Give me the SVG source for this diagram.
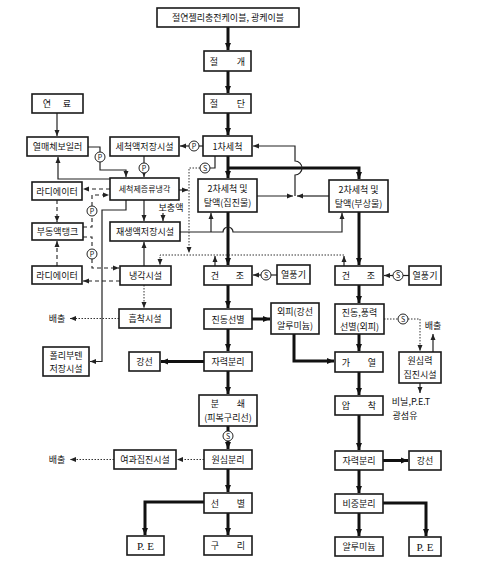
<svg xmlns="http://www.w3.org/2000/svg" width="477" height="572" viewBox="0 0 477 572">
<defs>
<style>
.b{fill:#fff;stroke:#1a1a1a;stroke-width:1.6}
text{font-family:"Noto Sans CJK KR","Noto Sans",sans-serif;font-size:9px;fill:#111;text-anchor:middle}
.sm{font-size:8px}
.k{stroke:#111;stroke-width:3;fill:none}
.n{stroke:#222;stroke-width:1.2;fill:none}
.d{stroke:#222;stroke-width:1.1;fill:none;stroke-dasharray:4 3}
.o{stroke:#333;stroke-width:1;fill:none;stroke-dasharray:1.5 1.5}
.c{fill:#fff;stroke:#222;stroke-width:1}
.cl{font-size:7px}
</style>
<marker id="a" markerUnits="userSpaceOnUse" markerWidth="8" markerHeight="7" refX="7" refY="3.5" orient="auto"><path d="M0,0.5 L7,3.5 L0,6.5 z" fill="#111"/></marker>
<marker id="s" markerUnits="userSpaceOnUse" markerWidth="7" markerHeight="6" refX="6" refY="3" orient="auto"><path d="M0,0.5 L6,3 L0,5.5 z" fill="#222"/></marker>
</defs>
<rect width="477" height="572" fill="#fff"/>

<g id="connectors">
<path class="k" d="M228,27 V50" marker-end="url(#a)"/>
<path class="k" d="M228,71 V93" marker-end="url(#a)"/>
<path class="k" d="M228,113 V135" marker-end="url(#a)"/>
<path class="k" d="M228,156 V178" marker-end="url(#a)"/>
<path class="k" d="M228,168 H359 V179" marker-end="url(#a)"/>
<path class="k" d="M228,212 V265" marker-end="url(#a)"/>
<path class="k" d="M359,212 V265" marker-end="url(#a)"/>
<path class="k" d="M228,285 V308" marker-end="url(#a)"/>
<path class="k" d="M252,319 H270" marker-end="url(#a)"/>
<path class="k" d="M294,334 V361 H334" marker-end="url(#a)"/>
<path class="k" d="M359,285 V303" marker-end="url(#a)"/>
<path class="k" d="M359,334 V351" marker-end="url(#a)"/>
<path class="k" d="M359,372 V395" marker-end="url(#a)"/>
<path class="k" d="M359,415 V450" marker-end="url(#a)"/>
<path class="k" d="M383,460.5 H408" marker-end="url(#a)"/>
<path class="k" d="M359,470 V493" marker-end="url(#a)"/>
<path class="k" d="M359,513 V536" marker-end="url(#a)"/>
<path class="k" d="M383,503 H426 V536" marker-end="url(#a)"/>
<path class="k" d="M228,329 V351" marker-end="url(#a)"/>
<path class="k" d="M204,361.5 H161" marker-end="url(#a)"/>
<path class="k" d="M228,371 V394" marker-end="url(#a)"/>
<path class="k" d="M228,426 V431"/>
<path class="k" d="M228,441 V449" marker-end="url(#a)"/>
<path class="k" d="M228,469 V492" marker-end="url(#a)"/>
<path class="k" d="M228,513 V535" marker-end="url(#a)"/>
<path class="k" d="M204,502 H145 V535" marker-end="url(#a)"/>

<path class="n" d="M57,113 V136" marker-end="url(#s)"/>
<path class="n" d="M203,146 H199"/>
<path class="n" d="M189,146 H180" marker-end="url(#s)"/>
<path class="n" d="M144,156 V163"/>
<path class="n" d="M144,173 V177" marker-end="url(#s)"/>
<path class="n" d="M88,147 H100 V152"/>
<path class="n" d="M100,162 V170 H126 V177" marker-end="url(#s)"/>
<path class="n" d="M110,179 H58 V157" marker-end="url(#s)"/>
<path class="n" d="M179,190 H188" marker-end="url(#s)"/>
<path class="n" d="M126,200 V210 H102 V361.5 H90" marker-end="url(#s)"/>
<path class="n" d="M144,200 V221" marker-end="url(#s)"/>
<path class="n" d="M163,213 V221" marker-end="url(#s)"/>
<path class="n" d="M144,266 V242" marker-end="url(#s)"/>
<path class="n" d="M180,232 H223 A5,5 0 0 1 233,232 H342 V213" marker-end="url(#s)"/>
<path class="n" d="M211,232 V213" marker-end="url(#s)"/>
<path class="n" d="M257,196 H293" marker-end="url(#s)"/>
<path class="n" d="M329,196 H297" marker-end="url(#s)"/>
<path class="n" d="M295,196 V175 A7,7 0 0 0 295,161 V146 H253" marker-end="url(#s)"/>
<path class="n" d="M215,156 V168 H210"/>
<path class="n" d="M277,275 H271"/>
<path class="n" d="M261,275 H253" marker-end="url(#s)"/>
<path class="n" d="M409,275.5 H403"/>
<path class="n" d="M393,275.5 H384" marker-end="url(#s)"/>
<path class="n" d="M433,352 V334" marker-end="url(#s)"/>
<path class="n" d="M420,383 V393" marker-end="url(#s)"/>

<path class="o" d="M200,168 H189 V253" marker-end="url(#s)"/>
<path class="o" d="M344,255 H160 V265" marker-end="url(#s)"/>
<path class="n" d="M344,266 V256" marker-end="url(#s)"/>
<path class="n" d="M215,266 V256" marker-end="url(#s)"/>
<path class="o" d="M144,285 V308" marker-end="url(#s)"/>
<path class="o" d="M119,318.5 H70" marker-end="url(#s)"/>
<path class="o" d="M384,319 H398"/>
<path class="o" d="M408,319 H420 V351" marker-end="url(#s)"/>
<path class="o" d="M204,459.5 H177" marker-end="url(#s)"/>
<path class="o" d="M114,459.5 H70" marker-end="url(#s)"/>

<path class="d" d="M110,189 H83" marker-end="url(#s)"/>
<path class="d" d="M57,200 V222" marker-end="url(#s)"/>
<path class="d" d="M57,266 V241" marker-end="url(#s)"/>
<path class="d" d="M83,227 H92 V216"/>
<path class="d" d="M92,206 V195 H109" marker-end="url(#s)"/>
<path class="d" d="M83,237 H92 V249"/>
<path class="d" d="M92,259 V268 H119" marker-end="url(#s)"/>
<path class="d" d="M120,281 H83" marker-end="url(#s)"/>

<circle class="c" cx="194" cy="146" r="5"/><text class="cl" x="194" y="148.5">P</text>
<circle class="c" cx="144" cy="168" r="5"/><text class="cl" x="144" y="170.5">P</text>
<circle class="c" cx="100" cy="157" r="5"/><text class="cl" x="100" y="159.5">P</text>
<circle class="c" cx="92" cy="211" r="5"/><text class="cl" x="92" y="213.5">P</text>
<circle class="c" cx="92" cy="254" r="5"/><text class="cl" x="92" y="256.5">P</text>
<circle class="c" cx="205" cy="168" r="5"/><text class="cl" x="205" y="170.5">S</text>
<circle class="c" cx="266" cy="275" r="5"/><text class="cl" x="266" y="277.5">S</text>
<circle class="c" cx="398" cy="275.5" r="5"/><text class="cl" x="398" y="278">S</text>
<circle class="c" cx="403" cy="319" r="5"/><text class="cl" x="403" y="321.5">S</text>
<circle class="c" cx="228" cy="436" r="5"/><text class="cl" x="228" y="438.5">S</text>
</g>

<g id="n_cable"><rect class="b" x="157" y="8" width="142" height="19"/><text x="228" y="21">절연젤리충전케이블, 광케이블</text></g>
<g id="n_cut1"><rect class="b" x="204" y="51" width="47" height="20"/><text x="228" y="64.5"><tspan x="214">절</tspan><tspan x="241">개</tspan></text></g>
<g id="n_cut2"><rect class="b" x="204" y="94" width="47" height="19"/><text x="228" y="107"><tspan x="214">절</tspan><tspan x="241">단</tspan></text></g>
<g id="n_wash1"><rect class="b" x="203" y="136" width="49" height="20"/><text x="227.5" y="149.5">1차세척</text></g>
<g id="n_fuel"><rect class="b" x="32" y="94" width="51" height="19"/><text x="57" y="107"><tspan x="47">연</tspan><tspan x="67">료</tspan></text></g>
<g id="n_boiler"><rect class="b" x="27" y="137" width="61" height="19"/><text x="57.5" y="150">열매체보일러</text></g>
<g id="n_wstore"><rect class="b" x="110" y="137" width="69" height="19"/><text x="144.5" y="150">세척액저장시설</text></g>
<g id="n_distill"><rect class="b" x="110" y="178" width="69" height="22"/><text class="sm" x="144.5" y="192">세척제증류냉각</text></g>
<g id="n_wash2a"><rect class="b" x="198" y="179" width="59" height="33"/><text x="227.5" y="192">2차세척 및</text><text x="227.5" y="206">탈액(집진물)</text></g>
<g id="n_wash2b"><rect class="b" x="329" y="180" width="59" height="32"/><text x="358.5" y="192.5">2차세척 및</text><text x="358.5" y="206.5">탈액(부상물)</text></g>
<g id="n_rad1"><rect class="b" x="32" y="182" width="50" height="18"/><text x="57" y="194.5">라디에이터</text></g>
<g id="n_tank"><rect class="b" x="32" y="223" width="51" height="17"/><text x="57.5" y="235">부동액탱크</text></g>
<g id="n_rad2"><rect class="b" x="32" y="266" width="50" height="18"/><text x="57" y="278.5">라디에이터</text></g>
<g id="n_regen"><rect class="b" x="110" y="222" width="70" height="19"/><text x="145" y="235">재생액저장시설</text></g>
<g id="n_cool"><rect class="b" x="120" y="266" width="51" height="19"/><text x="145.5" y="279">냉각시설</text></g>
<g id="n_adsorb"><rect class="b" x="119" y="309" width="52" height="19"/><text x="145" y="322">흡착시설</text></g>
<g id="n_poly"><rect class="b" x="43" y="347" width="46" height="29"/><text x="66" y="359">폴리부텐</text><text x="66" y="372">저장시설</text></g>
<g id="n_dry1"><rect class="b" x="204" y="266" width="48" height="19"/><text x="228" y="279"><tspan x="215">건</tspan><tspan x="240">조</tspan></text></g>
<g id="n_fan1"><rect class="b" x="277" y="265" width="33" height="19"/><text x="293.5" y="278">열풍기</text></g>
<g id="n_dry2"><rect class="b" x="335" y="266" width="48" height="19"/><text x="359" y="279"><tspan x="346">건</tspan><tspan x="371">조</tspan></text></g>
<g id="n_fan2"><rect class="b" x="409" y="266" width="32" height="19"/><text x="425" y="279">열풍기</text></g>
<g id="n_vib"><rect class="b" x="204" y="309" width="48" height="20"/><text x="228" y="322.5">진동선별</text></g>
<g id="n_shell"><rect class="b" x="271" y="303" width="48" height="31"/><text x="295" y="315">외피(강선</text><text x="295" y="329">알루미늄)</text></g>
<g id="n_vib2"><rect class="b" x="335" y="304" width="49" height="30"/><text x="359.5" y="316">진동,풍력</text><text x="359.5" y="330">선별(외피)</text></g>
<g id="n_cyclone"><rect class="b" x="399" y="352" width="42" height="31"/><text x="420" y="364">원심력</text><text x="420" y="378">집진시설</text></g>
<g id="n_mag1"><rect class="b" x="204" y="352" width="48" height="19"/><text x="228" y="365">자력분리</text></g>
<g id="n_steel1"><rect class="b" x="129" y="352" width="31" height="19"/><text x="144.5" y="365">강선</text></g>
<g id="n_crush"><rect class="b" x="199" y="395" width="58" height="31"/><text x="228" y="407"><tspan x="215">분</tspan><tspan x="241">쇄</tspan></text><text x="228" y="421">(피복구리선)</text></g>
<g id="n_heat"><rect class="b" x="335" y="352" width="48" height="20"/><text x="359" y="365.5"><tspan x="346">가</tspan><tspan x="372">열</tspan></text></g>
<g id="n_press"><rect class="b" x="335" y="396" width="48" height="19"/><text x="359" y="409"><tspan x="346">압</tspan><tspan x="372">착</tspan></text></g>
<g id="n_cent"><rect class="b" x="204" y="450" width="48" height="19"/><text x="228" y="463">원심분리</text></g>
<g id="n_filter"><rect class="b" x="114" y="450" width="62" height="19"/><text x="145" y="463">여과집진시설</text></g>
<g id="n_sort"><rect class="b" x="204" y="493" width="48" height="20"/><text x="228" y="506.5"><tspan x="215">선</tspan><tspan x="241">별</tspan></text></g>
<g id="n_pe1"><rect class="b" x="127" y="536" width="37" height="19"/><text x="145.5" y="549.5" style="font-family:'Liberation Serif',serif;font-size:11px">P. E</text></g>
<g id="n_cu"><rect class="b" x="204" y="536" width="48" height="19"/><text x="228" y="549"><tspan x="215">구</tspan><tspan x="241">리</tspan></text></g>
<g id="n_mag2"><rect class="b" x="335" y="451" width="48" height="19"/><text x="359" y="464">자력분리</text></g>
<g id="n_steel2"><rect class="b" x="409" y="451" width="32" height="19"/><text x="425" y="464">강선</text></g>
<g id="n_dens"><rect class="b" x="335" y="494" width="48" height="19"/><text x="359" y="507">비중분리</text></g>
<g id="n_al"><rect class="b" x="335" y="537" width="48" height="19"/><text x="359" y="550">알루미늄</text></g>
<g id="n_pe2"><rect class="b" x="409" y="537" width="32" height="19"/><text x="425" y="550.5" style="font-family:'Liberation Serif',serif;font-size:11px">P. E</text></g>

<g id="labels">
<text x="171" y="211">보충액</text>
<text x="57" y="321.5">배출</text>
<text x="57" y="462.5">배출</text>
<text x="433" y="329">배출</text>
<text x="411" y="405">비닐,P.E.T</text>
<text x="405" y="419">광섬유</text>
</g>
</svg>
